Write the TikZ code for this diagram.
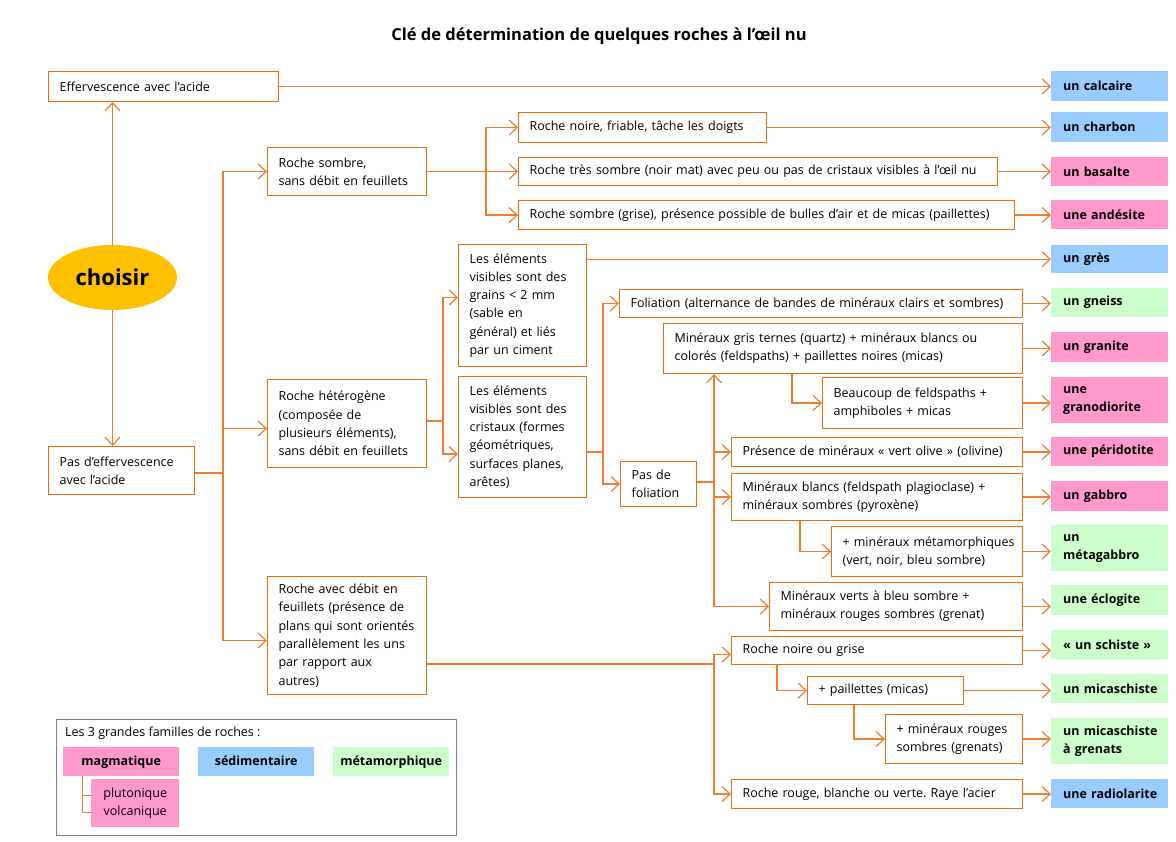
\documentclass[tikz,border=0pt]{standalone}
\usepackage{fontspec}
\setmainfont{Open Sans}
\usetikzlibrary{arrows.meta,shapes.geometric}
\hyphenpenalty=10000
\exhyphenpenalty=10000
\frenchspacing
\definecolor{bord}{RGB}{228,108,10}
\definecolor{lien}{RGB}{237,125,49}
\definecolor{bleu}{RGB}{153,204,255}
\definecolor{rose}{RGB}{255,153,204}
\definecolor{vert}{RGB}{204,255,204}
\definecolor{jaune}{RGB}{255,192,0}
\newcommand\fs{\fontsize{12.5}{18.3}\selectfont}
\newcommand\fsb{\bfseries\fontsize{12.5}{18.3}\selectfont}
\tikzset{
  stepbox/.style={draw=bord, line width=1.1pt, fill=white, anchor=north west,
    inner xsep=11pt, inner ysep=0pt, align=left, font=\fs},
  resbox/.style={anchor=north west, inner xsep=12pt, inner ysep=0pt, align=left,
    font=\fsb, text width=93pt, minimum width=117pt},
  legcell/.style={anchor=north west, inner sep=0pt, align=center, font=\fsb},
  lk/.style={draw=lien, line width=1.2pt},
  ar/.style={lk, -{Straight Barb[length=8pt,width=15pt,line width=1.2pt]}},
}
\newcommand\bx[6]{%
  \pgfmathsetmacro\tw{#4-#2-22}%
  \pgfmathsetmacro\bh{#5-#3}%
  \node[stepbox, text width=\tw pt, minimum height=\bh pt] (#1) at (#2,#3) {#6};}
\newcommand\rs[5]{%
  \pgfmathsetmacro\bh{#3-#2}%
  \node[resbox, fill=#4, minimum height=\bh pt] (#1) at (1051,#2) {#5};}
\begin{document}
\begin{tikzpicture}[x=1pt,y=-1pt]
\fill[white] (0,0) rectangle (1176,842);
\path[use as bounding box] (0,0) rectangle (1176,842);

\node[font=\bfseries\fontsize{16.5}{18}\selectfont] (titre) at (599,36)
  {Clé de détermination de quelques roches à l'œil nu};

% left column
\bx{eff}{48}{71}{278}{101}{Effervescence avec l'acide}
\bx{pas}{48}{446}{194}{494}{Pas d'effervescence\\avec l'acide}
\node[ellipse, fill=jaune, minimum width=129pt, minimum height=65pt, inner sep=0pt,
  font=\bfseries\fontsize{22}{24}\selectfont] (choisir) at (112.5,277.5) {choisir};

% second column
\bx{rsombre}{267}{147}{426}{195}{Roche sombre,\\sans débit en feuillets}
\bx{rhet}{267}{379}{426}{467}{Roche hétérogène\\(composée de\\plusieurs éléments),\\sans débit en feuillets}
\bx{rdebit}{267}{576}{426}{694}{Roche avec débit en\\feuillets (présence de\\plans qui sont orientés\\parallèlement les uns\\par rapport aux\\autres)}

% third column
\bx{rnoire}{518}{112}{766}{142}{Roche noire, friable, tâche les doigts}
\bx{rtres}{518}{157}{997}{185}{Roche très sombre (noir mat) avec peu ou pas de cristaux visibles à l'œil nu}
\bx{rgrise}{518}{200}{1014}{229}{Roche sombre (grise), présence possible de bulles d'air et de micas (paillettes)}
\bx{grains}{458}{244}{586}{366}{Les éléments\\visibles sont des\\grains < 2 mm\\(sable en\\général) et liés\\par un ciment}
\bx{cristaux}{458}{376}{586}{497}{Les éléments\\visibles sont des\\cristaux (formes\\géométriques,\\surfaces planes,\\arêtes)}

% fourth column
\bx{foli}{619}{289}{1022}{317}{Foliation (alternance de bandes de minéraux clairs et sombres)}
\bx{pasfol}{620}{461}{696}{506}{Pas de\\foliation}
\bx{mgris}{663}{323}{1022}{373}{Minéraux gris ternes (quartz) + minéraux blancs ou\\colorés (feldspaths) + paillettes noires (micas)}
\bx{beauc}{822}{377}{1022}{428}{Beaucoup de feldspaths +\\amphiboles + micas}
\bx{presence}{731}{437}{1022}{466}{Présence de minéraux «~vert olive~» (olivine)}
\bx{mblancs}{731}{473}{1022}{520}{Minéraux blancs (feldspath plagioclase) +\\minéraux sombres (pyroxène)}
\bx{metam}{831}{526}{1022}{576}{+~minéraux~métamorphiques\\(vert, noir, bleu sombre)}
\bx{mverts}{769}{582}{1022}{630}{Minéraux verts à bleu sombre +\\minéraux rouges sombres (grenat)}
\bx{rnog}{731}{636}{1022}{664}{Roche noire ou grise}
\bx{paill}{807}{676}{963}{704}{+ paillettes (micas)}
\bx{mrouges}{885}{714}{1022}{763}{+ minéraux rouges\\sombres (grenats)}
\bx{rrouge}{731}{779}{1022}{808}{Roche rouge, blanche ou verte. Raye l'acier}

% results
\rs{calcaire}{71}{101}{bleu}{un~calcaire}
\rs{charbon}{112}{142}{bleu}{un~charbon}
\rs{basalte}{157}{186}{rose}{un~basalte}
\rs{andesite}{200}{229}{rose}{une~andésite}
\rs{gres}{245}{273}{bleu}{un~grès}
\rs{gneiss}{288}{317}{vert}{un~gneiss}
\rs{granite}{332}{362}{rose}{un~granite}
\rs{granodiorite}{377}{423}{rose}{une\\granodiorite}
\rs{peridotite}{437}{466}{rose}{une~péridotite}
\rs{gabbro}{481}{511}{rose}{un~gabbro}
\rs{metagabbro}{525}{571}{vert}{un\\métagabbro}
\rs{eclogite}{585}{615}{vert}{une~éclogite}
\rs{schiste}{630}{659}{vert}{«~un~schiste~»}
\rs{micaschiste}{674}{703}{vert}{un~micaschiste}
\rs{micagrenats}{718}{764}{vert}{un~micaschiste\\à~grenats}
\rs{radiolarite}{779}{808}{bleu}{une~radiolarite}

% legend
\node[draw=gray, line width=1pt, anchor=north west, minimum width=400pt,
  minimum height=116pt, inner sep=0pt] (legende) at (55.5,719) {};
\node[anchor=west, inner sep=0pt, font=\fs] (legtitre) at (65,733) {Les 3 grandes familles de roches :};
\node[legcell, fill=rose, minimum width=116pt, minimum height=29pt, text height=10pt, text depth=3pt] (magma) at (63,747) {magmatique};
\node[legcell, fill=bleu, minimum width=116pt, minimum height=29pt, text height=10pt, text depth=3pt] (sedim) at (198,747) {sédimentaire};
\node[legcell, fill=vert, minimum width=116pt, minimum height=29pt, text height=10pt, text depth=3pt] (metamo) at (333,747) {métamorphique};
\node[legcell, fill=rose, minimum width=88pt, minimum height=48pt, font=\fs] (pluto) at (91,779) {plutonique\\volcanique};
\coordinate (bk) at (82,0);
\draw[lk, line width=1pt] (magma.south -| bk) |- ([yshift=8pt]pluto.west);
\draw[lk, line width=1pt] (magma.south -| bk) |- ([yshift=-9pt]pluto.west);

% connectors: left
\draw[ar] (eff.east) -- (eff.east -| calcaire.west);
\draw[ar] (choisir.north) -- (choisir.north |- eff.south);
\draw[ar] (choisir.south) -- (choisir.south |- pas.north);
\coordinate (t1) at (223,473);
\draw[lk] (pas.east |- t1) -- (t1);
\draw[ar] (t1) |- (rsombre.west);
\draw[ar] (t1) |- ([yshift=-5pt]rhet.west);
\draw[ar] (t1) |- ([yshift=-5pt]rdebit.west);

% roche sombre
\coordinate (t2) at (486,0);
\draw[ar] (rsombre.east) -- (rsombre.east -| rtres.west);
\draw[ar] (rsombre.east -| t2) |- (rnoire.west);
\draw[ar] (rsombre.east -| t2) |- (rgrise.west);
\draw[ar] (rnoire.east) -- (rnoire.east -| charbon.west);
\draw[ar] (rtres.east) -- (rtres.east -| basalte.west);
\draw[ar] (rgrise.east) -- (rgrise.east -| andesite.west);

% heterogene
\coordinate (t3) at (443,421);
\draw[lk] (rhet.east |- t3) -- (t3);
\draw[ar] (t3) |- ([yshift=8pt]grains.west);
\draw[ar] (t3) |- ([yshift=-17pt]cristaux.west);
\draw[ar] (grains.east |- gres.west) -- (gres.west);

% cristaux
\coordinate (t4) at (603,452);
\draw[lk] (cristaux.east |- t4) -- (t4);
\draw[ar] (t4) |- (foli.west);
\draw[ar] (t4) |- (pasfol.west);
\draw[ar] (foli.east) -- (foli.east -| gneiss.west);

% pas de foliation
\coordinate (t5) at (714,482);
\draw[lk] (pasfol.east |- t5) -- (t5);
\draw[ar] (t5) -- (t5 |- mgris.south);
\draw[ar] (t5) |- (presence.west);
\draw[ar] (t5) |- (mblancs.west);
\draw[ar] (t5) |- (mverts.west);
\draw[ar] (mgris.east) -- (mgris.east -| granite.west);
\coordinate (t6) at (792,0);
\draw[ar] (mgris.south -| t6) |- (beauc.west);
\draw[ar] (beauc.east) -- (beauc.east -| granodiorite.west);
\draw[ar] (presence.east) -- (presence.east -| peridotite.west);
\draw[ar] (mblancs.east) -- (mblancs.east -| gabbro.west);
\coordinate (t7) at (800,0);
\draw[ar] (mblancs.south -| t7) |- (metam.west);
\draw[ar] (metam.east) -- (metam.east -| metagabbro.west);
\draw[ar] (mverts.east) -- (mverts.east -| eclogite.west);

% debit en feuillets
\coordinate (t8) at (714,664);
\draw[lk] (rdebit.east |- t8) -- (t8);
\draw[ar] (t8) |- ([yshift=-4pt]rnog.west);
\draw[ar] (t8) |- (rrouge.west);
\draw[ar] (rnog.east) -- (rnog.east -| schiste.west);
\coordinate (t9) at (777,0);
\draw[ar] (rnog.south -| t9) |- (paill.west);
\draw[ar] (paill.east) -- (paill.east -| micaschiste.west);
\coordinate (t10) at (854,0);
\draw[ar] (paill.south -| t10) |- (mrouges.west);
\draw[ar] (mrouges.east) -- (mrouges.east -| micagrenats.west);
\draw[ar] (rrouge.east) -- (rrouge.east -| radiolarite.west);
\end{tikzpicture}
\end{document}
